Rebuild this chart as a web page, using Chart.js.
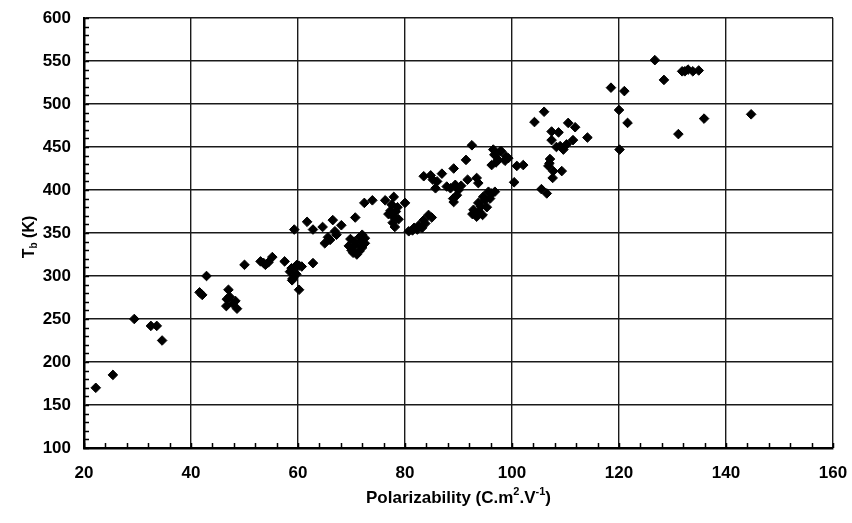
<!DOCTYPE html>
<html>
<head>
<meta charset="utf-8">
<script src="https://cdn.jsdelivr.net/npm/chart.js@4/dist/chart.umd.min.js"></script>
<style>
  html, body { margin: 0; padding: 0; background: #fff; }
  canvas { display: block; }
</style>
</head>
<body>
<canvas id="tbChart" width="852" height="523"></canvas>
<script>
// boiling point vs polarizability

// x values (polarizability)
const polarizability = [
  22.2, 25.4, 29.4, 32.5, 33.6, 34.6,
  41.6, 42.1, 42.9,
  47.0, 46.7, 46.6, 48.3, 47.8, 48.6, 47.2,
  50.0,
  53.0, 53.9, 55.2, 53.6, 54.5,
  57.5, 58.5, 59.5, 60.2, 58.9, 60.2, 59.7, 58.8, 59.8, 60.7, 59.0,
  62.8,
  59.3, 61.7, 62.8, 64.6, 65.0, 65.6, 66.5, 66.9, 68.1, 66.0, 67.2,
  70.7, 72.4, 73.9,
  69.5, 70.0, 70.5, 71.0, 71.5, 72.0, 72.5, 70.3, 71.5, 72.0, 69.8, 70.8, 71.8, 72.5,
  76.3, 77.9, 80.0, 77.3, 77.9, 78.1, 77.7, 76.9, 78.3, 78.6, 77.5, 78.8,
  80.7, 81.7, 82.6, 83.5, 84.4, 82.3, 83.2, 83.8, 81.4, 85.0,
  83.5, 84.8, 86.0, 86.9, 89.1, 91.4, 92.5, 85.7, 87.8, 89.4, 90.0, 89.1, 89.7, 85.2, 88.5, 90.5, 89.0,
  91.7, 93.4, 93.7,
  92.8, 93.7, 94.6, 95.6, 96.8, 92.6, 93.4, 94.2, 94.9, 96.2, 95.3, 93.8, 94.5, 95.9,
  96.5, 98.0, 96.2, 97.4, 98.9, 96.7, 97.8, 98.7, 99.3, 97.0,
  100.4, 100.9, 102.1,
  104.2, 106.0,
  107.4, 108.7, 107.4, 110.5, 111.8, 114.1, 109.0, 110.2, 111.4, 109.6, 108.3,
  107.1, 106.8, 107.7, 109.3, 107.6, 107.0,
  105.5, 106.5,
  118.5, 121.0, 120.0, 121.6, 120.1, 126.7, 128.4, 131.8, 132.3, 132.9, 133.8, 134.9, 131.1, 135.9, 144.7
];

// y values (boiling point, K)
const boilingPoint = [
  170, 185, 250, 242, 242, 225,
  281, 278, 300,
  284, 273, 265, 271, 268, 262, 276,
  313,
  317, 313, 322, 315, 316,
  317, 305, 311, 312, 295, 284, 302, 309, 313, 311, 297,
  315,
  354, 363, 354, 357, 338, 345, 365, 352, 359, 342, 348,
  368, 385, 388,
  335, 330, 340, 325, 345, 333, 338, 327, 329, 348, 343, 336, 340, 344,
  388, 392, 385, 376, 368, 357, 362, 372, 375, 380, 383, 366,
  352, 356, 359, 365, 371, 354, 356, 361, 353, 368,
  416, 417, 410, 419, 425, 435, 452, 402, 404, 406, 400, 386, 394, 412, 402, 405, 390,
  412, 414, 408,
  377, 385, 392, 398, 398, 372, 369, 381, 388, 396, 380, 375, 371, 390,
  447, 445, 429, 435, 439, 441, 445, 434, 437, 432,
  409, 428, 429,
  479, 491,
  468, 467, 458, 478, 473, 461, 451, 453, 458, 447, 450,
  436, 428, 422, 422, 414, 431,
  401, 396,
  519, 515, 493, 478, 447, 551, 528, 538, 538, 540, 538, 539, 465, 483, 488
];

const xRange = [20, 160];
const yRange = [100, 600];
const xStep = 20;
const yStep = 50;
const xMinorStep = 4;
const yMinorStep = 10;

const points = polarizability.map((x, i) => ({ x: x, y: boilingPoint[i] }));

const fontFamily = "'Liberation Sans', Arial, sans-serif";

// small inner ticks between the labelled ones
const minorTicks = {
  id: 'minorTicks',
  beforeDatasetsDraw(chart) {
    const { ctx, chartArea, scales } = chart;
    ctx.save();
    ctx.strokeStyle = '#000';
    ctx.lineWidth = 1.5;
    ctx.beginPath();
    for (let v = yRange[0]; v <= yRange[1]; v += yMinorStep) {
      const py = Math.round(scales.y.getPixelForValue(v)) + 0.5;
      ctx.moveTo(chartArea.left, py);
      ctx.lineTo(chartArea.left + 5, py);
    }
    for (let v = xRange[0]; v <= xRange[1]; v += xMinorStep) {
      const px = Math.round(scales.x.getPixelForValue(v)) + 0.5;
      ctx.moveTo(px, chartArea.bottom);
      ctx.lineTo(px, chartArea.bottom - 5);
    }
    ctx.stroke();
    ctx.restore();
  }
};

// draws runs of text, some raised (superscript) or lowered (subscript)
function drawRuns(ctx, runs, cx, cy, size) {
  const small = Math.round(size * 0.65);
  let total = 0;
  runs.forEach((r) => {
    ctx.font = 'bold ' + (r.shift ? small : size) + 'px ' + fontFamily;
    r.w = ctx.measureText(r.text).width;
    total += r.w;
  });
  let x = cx - total / 2;
  runs.forEach((r) => {
    ctx.font = 'bold ' + (r.shift ? small : size) + 'px ' + fontFamily;
    ctx.fillText(r.text, x, cy + (r.shift || 0));
    x += r.w;
  });
}

const axisTitles = {
  id: 'axisTitles',
  afterDraw(chart) {
    const { ctx, chartArea } = chart;
    ctx.save();
    ctx.fillStyle = '#000';
    ctx.textBaseline = 'middle';
    ctx.textAlign = 'left';
    // x title
    const midX = (chartArea.left + chartArea.right) / 2;
    drawRuns(ctx, [
      { text: 'Polarizability (C.m' },
      { text: '2', shift: -6 },
      { text: '.V' },
      { text: '-1', shift: -6 },
      { text: ')' }
    ], midX, 498, 17);
    // y title
    const midY = (chartArea.top + chartArea.bottom) / 2;
    ctx.translate(30, midY + 4);
    ctx.rotate(-Math.PI / 2);
    drawRuns(ctx, [
      { text: 'T' },
      { text: 'b', shift: 4 },
      { text: ' (K)' }
    ], 0, 0, 16);
    ctx.restore();
  }
};

const tickFont = { family: fontFamily, size: 17, weight: 'bold' };

const config = {
  type: 'scatter',
  data: {
    datasets: [
      {
        data: points,
        pointStyle: 'rectRot',
        pointRadius: 4.8,
        backgroundColor: '#000',
        borderColor: '#000',
        borderWidth: 1
      }
    ]
  },
  options: {
    responsive: false,
    animation: false,
    layout: { padding: { top: 18, right: 19, left: 0, bottom: 0 } },
    plugins: {
      legend: { display: false },
      tooltip: { enabled: false }
    },
    scales: {
      x: {
        type: 'linear',
        min: xRange[0],
        max: xRange[1],
        afterFit: (scale) => {
          scale.height = 75;
          scale.paddingLeft = 0;
          scale.paddingRight = 0;
        },
        ticks: { stepSize: xStep, color: '#000', font: tickFont, padding: 15 },
        grid: { color: '#1a1a1a', lineWidth: 1.4, drawTicks: false },
        border: { display: true, color: '#000', width: 2.5 }
      },
      y: {
        type: 'linear',
        min: yRange[0],
        max: yRange[1],
        afterFit: (scale) => {
          scale.width = 84;
          scale.paddingTop = 0;
          scale.paddingBottom = 0;
        },
        ticks: { stepSize: yStep, color: '#000', font: tickFont, padding: 13 },
        grid: { color: '#1a1a1a', lineWidth: 1.4, drawTicks: false },
        border: { display: true, color: '#000', width: 2.5 }
      }
    }
  },
  plugins: [minorTicks, axisTitles]
};

const tbChart = new Chart(document.getElementById('tbChart'), config);
</script>
</body>
</html>
